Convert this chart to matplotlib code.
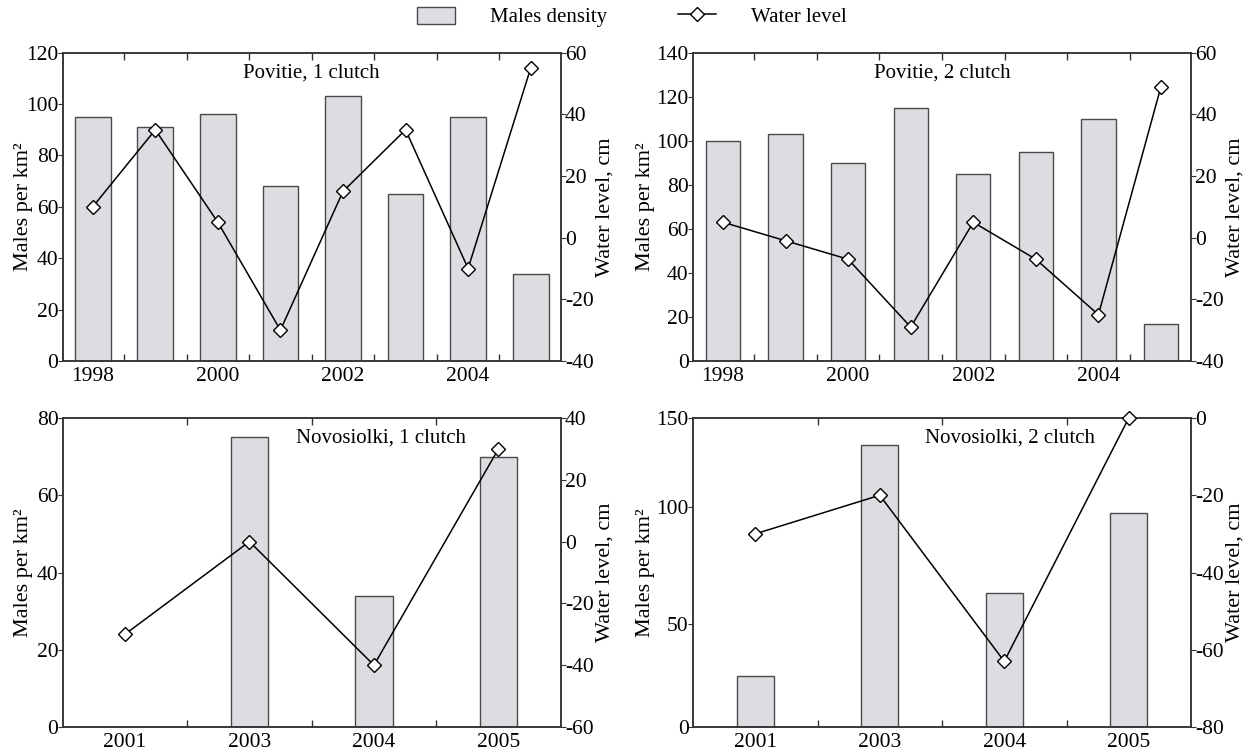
import numpy as np
import matplotlib
matplotlib.use("Agg")
import matplotlib.pyplot as plt
import matplotlib.transforms as mtransforms
from matplotlib.patches import Patch
from matplotlib.lines import Line2D

# --- data ---
years_pov = ["1998", "1999", "2000", "2001", "2002", "2003", "2004", "2005"]
pov1_density = [95, 91, 96, 68, 103, 65, 95, 34]
pov1_water = [10, 35, 5, -30, 15, 35, -10, 55]
pov2_density = [100, 103, 90, 115, 85, 95, 110, 17]
pov2_water = [5, -1, -7, -29, 5, -7, -25, 49]

years_nov = ["2001", "2003", "2004", "2005"]
nov1_density = [np.nan, 75, 34, 70]
nov1_water = [-30, 0, -40, 30]
nov2_density = [25, 137, 65, 104]
nov2_water = [-30, -20, -63, 0]

BAR = "#dcdde0"
EDGE = "#4a4a4a"
SPINE = "#333333"

plt.rcParams.update({"font.family": ["Liberation Serif", "DejaVu Serif"],
                     "axes.unicode_minus": False,
                     "axes.edgecolor": SPINE,
                     "axes.linewidth": 1.1})

fig = plt.figure(figsize=(12.5, 7.53), dpi=100)

W, H = 1250, 753
def rect(x0, x1, y0, y1):
    return [x0 / W, 1 - y1 / H, (x1 - x0) / W, (y1 - y0) / H]

# box (px), years, bars, line, left ylim, left ticks, left tick labels,
# right ylim, title, title x, bar width, label step, ylabel offset (px)
panels = [
    ((62.7, 560.7, 52.7, 361), years_pov, pov1_density, pov1_water,
     (0, 120), [0, 20, 40, 60, 80, 100, 120], None, (-40, 60),
     "Povitie, 1 clutch", 0.50, 0.57, 2, 30),
    ((693, 1191, 52.7, 361), years_pov, pov2_density, pov2_water,
     (0, 140), [0, 20, 40, 60, 80, 100, 120, 140], None, (-40, 60),
     "Povitie, 2 clutch", 0.50, 0.55, 2, 38),
    ((62.7, 560.7, 418, 727), years_nov, nov1_density, nov1_water,
     (0, 80), [0, 20, 40, 60, 80], None, (-60, 40),
     "Novosiolki, 1 clutch", 0.639, 0.30, 1, 30),
    ((693, 1191, 418, 727), years_nov, nov2_density, nov2_water,
     (0, 150), [0, 50, 107, 150], ["0", "50", "100", "150"], (-80, 0),
     "Novosiolki, 2 clutch", 0.637, 0.30, 1, 38),
]

for (box, years, dens, water, ylim, yt, ytl, wlim, title, tx,
     bw, step, lab_off) in panels:
    ax = fig.add_axes(rect(*box))
    x = np.arange(len(years))
    ax.bar(x, dens, width=bw, color=BAR, edgecolor=EDGE, linewidth=1.0,
           zorder=2)
    margin = 0.48 if len(years) > 4 else 0.5
    ax.set_xlim(-margin, len(years) - 1 + margin)
    ax.set_ylim(*ylim)
    ax.set_yticks(yt)
    if ytl is not None:
        ax.set_yticklabels(ytl)
    ax.set_xticks(x[::step])
    ax.set_xticklabels(years[::step])
    ax.set_xticks(x[:-1] + 0.5, minor=True)
    ax.tick_params(axis="x", which="major", length=0, pad=4, labelsize=15.5)
    ax.tick_params(axis="x", which="minor", direction="in", length=4.8,
                   top=True, bottom=True, width=1.0, color=SPINE)
    ax.tick_params(axis="y", direction="out", length=3.6, pad=-0.5,
                   labelsize=15.5, color=SPINE)
    ax.set_ylabel("Males per km²", fontsize=16)
    tr = mtransforms.blended_transform_factory(fig.transFigure, ax.transAxes)
    ax.yaxis.set_label_coords((box[0] - lab_off) / W, 0.5, transform=tr)
    ax.text(tx, 0.934, title, transform=ax.transAxes, ha="center",
            va="center", fontsize=15)

    ax2 = ax.twinx()
    ax2.plot(x, water, "-", color="black", lw=1.1, marker="D", ms=7,
             mfc="white", mec="black", mew=1.0, clip_on=False, zorder=3)
    ax2.set_ylim(*wlim)
    ax2.set_yticks(np.arange(wlim[0], wlim[1] + 1, 20))
    ax2.tick_params(axis="y", direction="out", length=3.6, pad=-0.5,
                    labelsize=15.5, color=SPINE)
    ax2.set_ylabel("Water level, cm", fontsize=16)
    ax2.yaxis.set_label_coords((box[1] + 35) / W, 0.5, transform=tr)

handles = [Patch(facecolor=BAR, edgecolor=EDGE, linewidth=1.0),
           Line2D([0], [0], color="black", lw=1.1, marker="D", ms=7,
                  mfc="white", mec="black", mew=1.0)]
fig.legend(handles, ["Males density", "Water level"], loc="center",
           bbox_to_anchor=(632 / W, 1 - 17 / H), ncol=2, frameon=False,
           fontsize=15, handlelength=1.82, handleheight=0.9,
           handletextpad=1.68, columnspacing=3.4)

fig.savefig("out.png", dpi=100)
